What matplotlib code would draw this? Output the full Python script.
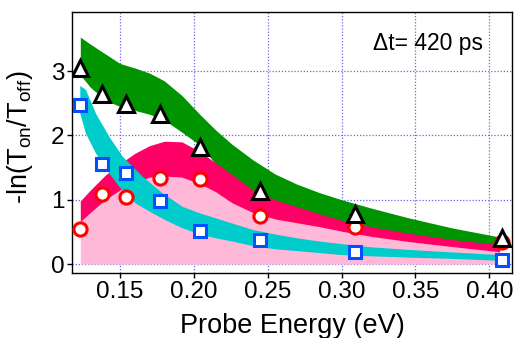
import numpy as np
import matplotlib
matplotlib.use('Agg')
import matplotlib.pyplot as plt

plt.rcParams['font.family'] = ['Liberation Sans', 'DejaVu Sans']
plt.rcParams['mathtext.fontset'] = 'custom'
plt.rcParams['mathtext.rm'] = 'Liberation Sans'
plt.rcParams['mathtext.it'] = 'Liberation Sans'

# measured points
energy = [0.1232, 0.1377, 0.154, 0.177, 0.204, 0.2446, 0.309, 0.4086]
tri = [3.05, 2.65, 2.49, 2.34, 1.82, 1.13, 0.78, 0.40]
circ = [0.55, 1.09, 1.05, 1.34, 1.32, 0.74, 0.58, 0.35]
squ = [2.48, 1.56, 1.42, 0.98, 0.51, 0.38, 0.19, 0.06]

# band outlines (common grid for green / magenta / pink)
bx = [0.1232, 0.130, 0.140, 0.150, 0.160, 0.170, 0.180, 0.192, 0.204, 0.215,
      0.226, 0.240, 0.255, 0.270, 0.285, 0.300, 0.320, 0.345, 0.375, 0.407]
green_hi = [3.53, 3.42, 3.27, 3.12, 3.05, 2.97, 2.85, 2.62, 2.33, 2.08,
            1.86, 1.62, 1.40, 1.24, 1.11, 1.00, 0.87, 0.72, 0.56, 0.42]
green_lo = [2.94, 2.75, 2.55, 2.45, 2.39, 2.33, 2.24, 2.05, 1.85, 1.55,
            1.36, 1.12, 0.97, 0.86, 0.75, 0.65, 0.55, 0.45, 0.35, 0.28]
mag_hi = [0.98, 1.15, 1.38, 1.56, 1.72, 1.84, 1.91, 1.90, 1.75, 1.57,
          1.39, 1.15, 1.00, 0.89, 0.78, 0.68, 0.58, 0.48, 0.38, 0.30]
pink_hi = [0.66, 0.80, 1.00, 1.15, 1.27, 1.35, 1.37, 1.35, 1.25, 1.12,
           0.95, 0.80, 0.70, 0.64, 0.58, 0.51, 0.43, 0.35, 0.27, 0.19]

# cyan band: upper edge and lower edge read separately
cyan_top_x = [0.1232, 0.127, 0.1338, 0.1428, 0.1519, 0.1654, 0.1789, 0.1924,
              0.204, 0.215, 0.226, 0.240, 0.255, 0.270, 0.285, 0.300, 0.320,
              0.345, 0.375, 0.407]
cyan_top_y = [2.77, 2.71, 2.34, 1.98, 1.67, 1.36, 1.10, 0.89,
              0.79, 0.71, 0.63, 0.53, 0.46, 0.40, 0.35, 0.31, 0.26,
              0.22, 0.18, 0.14]
cyan_bot_x = [0.1232, 0.127, 0.1338, 0.1428, 0.1496, 0.1608, 0.1721, 0.181,
              0.192, 0.204, 0.215, 0.226, 0.240, 0.255, 0.270, 0.285, 0.300,
              0.320, 0.345, 0.375, 0.407]
cyan_bot_y = [2.34, 2.03, 1.72, 1.41, 1.20, 0.94, 0.79, 0.68,
              0.56, 0.46, 0.40, 0.35, 0.28, 0.23, 0.20, 0.17, 0.14,
              0.12, 0.10, 0.08, 0.05]

fig = plt.figure(figsize=(5.17, 3.38), dpi=100)
ax = fig.add_axes([0.1393, 0.1923, 0.8510, 0.7722])

ax.fill_between(bx, 0, pink_hi, color='#FFB8D8', lw=0, zorder=1)
ax.fill_between(bx, green_lo, green_hi, color='#009400', lw=0, zorder=2)
ax.fill_between(bx, pink_hi, mag_hi, color='#FF0066', lw=0, zorder=3)
ax.fill(cyan_top_x + cyan_bot_x[::-1], cyan_top_y + cyan_bot_y[::-1],
        color='#00CCCC', lw=0, zorder=4)

ax.plot(energy, squ, 's', ms=9, mfc='white', mec='#0050FF', mew=2.2, zorder=5)
ax.plot(energy, circ, 'o', ms=9.5, mfc='white', mec='#FF0000', mew=2.2, zorder=6)
ax.plot(energy, tri, '^', ms=11.5, mfc='white', mec='black', mew=2.2, zorder=7)

ax.set_xlim(0.1176, 0.4153)
ax.set_ylim(-0.14, 3.92)
ax.set_xticks([0.15, 0.20, 0.25, 0.30, 0.35, 0.40])
ax.set_xticklabels(['0.15', '0.20', '0.25', '0.30', '0.35', '0.40'])
ax.set_yticks([0, 1, 2, 3])
ax.tick_params(direction='out', length=3.5, width=1, labelsize=17.5, pad=2)
ax.grid(True, color='#6666EE', linestyle=(0, (1, 1.5)), linewidth=0.9, zorder=0)
ax.set_axisbelow(True)
for s in ax.spines.values():
    s.set_linewidth(1.0)

ax.set_xlabel('Probe Energy (eV)', fontsize=19.5)
ax.xaxis.set_label_coords(0.5, -0.155)
ax.set_ylabel(r'-ln(T$_\mathregular{on}$/T$_\mathregular{off}$)', fontsize=19.5)
ax.yaxis.set_label_coords(-0.085, 0.52)
ax.text(0.934, 0.881, '\u0394t= 420 ps', transform=ax.transAxes, fontsize=16.5,
        ha='right', va='center')

fig.savefig('out.png', dpi=100)
